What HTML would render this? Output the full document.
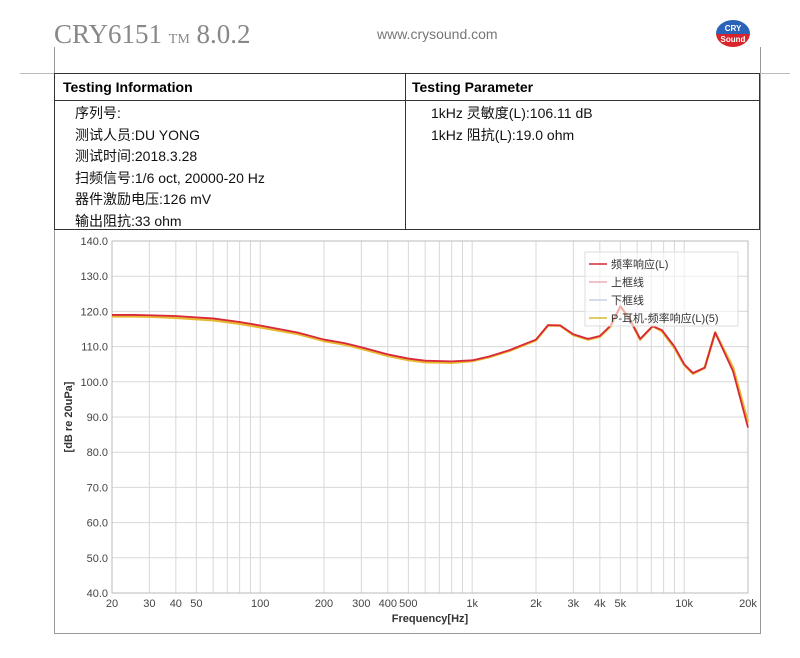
<!DOCTYPE html>
<html><head><meta charset="utf-8">
<style>
body{margin:0;width:800px;height:658px;background:#fff;position:relative;overflow:hidden;font-family:"Liberation Sans","Noto Sans CJK SC",sans-serif}
.abs{position:absolute}
.cell{font-size:14px;color:#111;line-height:21.5px}
</style></head><body>
<div class="abs" style="left:54px;top:19px;font-family:'Liberation Serif',serif;font-size:27px;color:#888">CRY6151 <span style="font-size:14px">TM</span> 8.0.2</div>
<div class="abs" style="left:377px;top:26px;font-size:14px;color:#777">www.crysound.com</div>
<svg class="abs" style="left:714px;top:19px" width="38" height="29"><defs><clipPath id="c"><ellipse cx="19" cy="14.5" rx="17" ry="13.5"/></clipPath></defs><g clip-path="url(#c)"><rect width="38" height="15" fill="#2a63b8"/><rect y="15" width="38" height="15" fill="#d8252b"/></g><text x="19" y="12" font-size="8" fill="#fff" text-anchor="middle" font-weight="bold">CRY</text><text x="19" y="23" font-size="8" fill="#fff" text-anchor="middle" font-weight="bold">Sound</text></svg>
<div class="abs" style="left:54px;top:47px;width:1px;height:587px;background:#999"></div>
<div class="abs" style="left:760px;top:47px;width:1px;height:587px;background:#999"></div>
<div class="abs" style="left:54px;top:633px;width:707px;height:1px;background:#999"></div>
<div class="abs" style="left:20px;top:73px;width:770px;height:1px;background:#bbb"></div>
<div class="abs" style="left:54px;top:73px;width:706px;height:157px;border:1px solid #333;box-sizing:border-box">
  <div class="abs" style="left:0;top:26px;width:704px;height:1px;background:#333"></div>
  <div class="abs" style="left:350px;top:0;width:1px;height:156px;background:#333"></div>
  <div class="abs" style="left:8px;top:5px;font-size:14px;font-weight:bold">Testing Information</div>
  <div class="abs" style="left:357px;top:5px;font-size:14px;font-weight:bold">Testing Parameter</div>
  <div class="abs cell" style="left:20px;top:29px">序列号:<br>测试人员:DU YONG<br>测试时间:2018.3.28<br>扫频信号:1/6 oct, 20000-20 Hz<br>器件激励电压:126 mV<br>输出阻抗:33 ohm</div>
  <div class="abs cell" style="left:376px;top:29px">1kHz 灵敏度(L):106.11 dB<br>1kHz 阻抗(L):19.0 ohm</div>
</div>
<svg class="abs" id="chart" style="left:0;top:0" width="800" height="658"></svg>
<script>
const freqs=[20,25,30,40,50,60,80,100,150,200,250,300,400,500,600,800,1000,1200,1500,2000,2280,2600,3000,3520,4000,4500,5000,5500,6200,7100,7850,9000,10000,11000,12500,14000,17000,20000];
const seriesRed=[119,119,118.9,118.7,118.3,118,117,116,114,112,111,109.8,107.8,106.6,106,105.8,106.1,107.2,109,112,116.1,116,113.5,112.2,113,116,121.5,118,112.2,115.8,114.7,110,105,102.5,104,114,103,87];
const seriesYellow=[118.6,118.6,118.5,118.2,117.8,117.5,116.5,115.5,113.6,111.6,110.6,109.4,107.4,106.2,105.6,105.4,105.9,107,108.8,111.8,116,116,113.3,112,112.8,115.8,121.3,118.2,112,115.8,114.4,109.6,104.8,102.3,104,114,104,88.5];
const yTicks=[40,50,60,70,80,90,100,110,120,130,140];
const xTickVals=[20,30,40,50,100,200,300,400,500,1000,2000,3000,4000,5000,10000,20000];
const xTickLabels=["20","30","40","50","100","200","300","400","500","1k","2k","3k","4k","5k","10k","20k"];
const NS="http://www.w3.org/2000/svg",svg=document.getElementById('chart');
const L=112,R=748,T=241,B=593;
const X=f=>L+(R-L)*Math.log10(f/20)/3, Y=v=>B-(B-T)*(v-40)/100;
function mk(t,a,p){const e=document.createElementNS(NS,t);for(const k in a)e.setAttribute(k,a[k]);(p||svg).appendChild(e);return e;}
const grid=mk('g',{});


for(let d=10;d<=10000;d*=10)for(let m=1;m<10;m++){const f=d*m;if(f<20||f>20000)continue;mk('line',{x1:X(f),x2:X(f),y1:T,y2:B,stroke:'#d8d8d8','stroke-width':1},grid);}
yTicks.forEach(v=>{mk('line',{x1:L,x2:R,y1:Y(v),y2:Y(v),stroke:'#d8d8d8'},grid);
const t=mk('text',{x:L-4,y:Y(v)+4,'font-size':11,fill:'#444','text-anchor':'end'});t.textContent=v.toFixed(1);

});
xTickVals.forEach((f,i)=>{const t=mk('text',{x:X(f),y:B+14,'font-size':11,fill:'#444','text-anchor':'middle'});t.textContent=xTickLabels[i];

});
mk('rect',{x:L,y:T,width:R-L,height:B-T,fill:'none',stroke:'#bbb'});
const xt=mk('text',{x:430,y:622,'font-size':11,'font-weight':'bold',fill:'#333','text-anchor':'middle'});xt.textContent='Frequency[Hz]';


const yt=mk('text',{x:0,y:0,'font-size':11,'font-weight':'bold',fill:'#333','text-anchor':'middle',transform:'translate(72,417) rotate(-90)'});yt.textContent='[dB re 20uPa]';


function line(vals,col,w,name){const p=mk('polyline',{points:freqs.map((f,i)=>X(f)+','+Y(vals[i])).join(' '),fill:'none',stroke:col,'stroke-width':w,'stroke-linejoin':'round'});

}
line(seriesYellow,'#e8b830',2.5,'series-p-earphone');
line(seriesRed,'#d8283a',1.8,'series-frequency-response');
const lg=mk('g',{});


mk('rect',{x:585,y:252,width:153,height:74,fill:'rgba(255,255,255,0.6)',stroke:'#ddd'},lg);
[['频率响应(L)','#d8283a'],['上框线','#e8b0b8'],['下框线','#c8d0e8'],['P-耳机-频率响应(L)(5)','#d8b830']].forEach((e,i)=>{const y=264+i*18;
mk('line',{x1:589,x2:607,y1:y,y2:y,stroke:e[1],'stroke-width':1.5},lg);
const t=mk('text',{x:611,y:y+4,'font-size':11,fill:'#333'},lg);t.textContent=e[0];

});
</script>
</body></html>
